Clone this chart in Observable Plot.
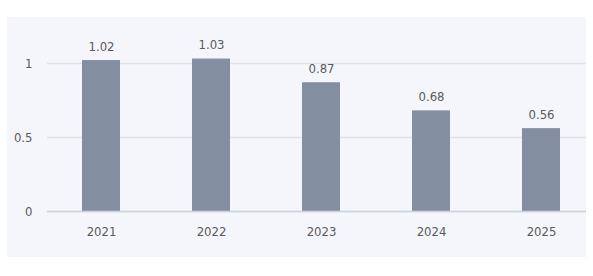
<!DOCTYPE html>
<html>
<head>
<meta charset="utf-8">
<script src="https://cdn.jsdelivr.net/npm/d3@7"></script>
<script src="https://cdn.jsdelivr.net/npm/@observablehq/plot@0.6"></script>
<style>
  html, body { margin: 0; padding: 0; background: #ffffff; }
  #wrap { position: relative; width: 593px; height: 276px; overflow: hidden; }
  #panel { position: absolute; left: 7px; top: 17px; width: 579px; height: 240px; background: #f5f6fb; }
  #chart { position: absolute; left: 0; top: 0; }
  #chart svg { background: transparent !important; }
</style>
</head>
<body>
<div id="wrap"><div id="panel"></div><div id="chart"></div></div>
<script>
const years = ["2021", "2022", "2023", "2024", "2025"];
const values = [1.02, 1.03, 0.87, 0.68, 0.56];
const yTicks = [0, 0.5, 1];

const data = years.map((year, i) => ({year, value: values[i]}));
const font = "'Liberation Sans Narrow', 'DejaVu Sans Condensed', sans-serif";

const chart = Plot.plot({
  width: 593,
  height: 276,
  marginLeft: 47,
  marginRight: 7,
  marginTop: 17,
  marginBottom: 65,
  style: {background: "transparent", fontFamily: font, fontSize: "13px", color: "#5a5a5a"},
  x: {domain: years, range: [46, 596], paddingInner: 0.655, paddingOuter: 0.3275, align: 0.5, label: null},
  y: {domain: [0, 1], range: [211, 63], label: null},
  marks: [
    Plot.gridY(yTicks, {stroke: "#dfe2ea", strokeOpacity: 1, strokeWidth: 1.5}),
    Plot.barY(data, {x: "year", y: "value", fill: "#838fa0"}),
    Plot.ruleY([0], {stroke: "#cdd2de", strokeWidth: 1.5}),
    Plot.text(data, {x: "year", y: "value", text: d => d.value.toFixed(2), dy: -14, fill: "#5a5a5a", fontSize: 13}),
    Plot.axisX({tickSize: 0, tickPadding: 15, fontSize: 13, fill: "#5a5a5a"}),
    Plot.axisY(yTicks, {tickSize: 0, tickPadding: 15, fontSize: 13, fill: "#5a5a5a", tickFormat: d => String(d)})
  ]
});
document.getElementById("chart").appendChild(chart);
</script>
</body>
</html>
